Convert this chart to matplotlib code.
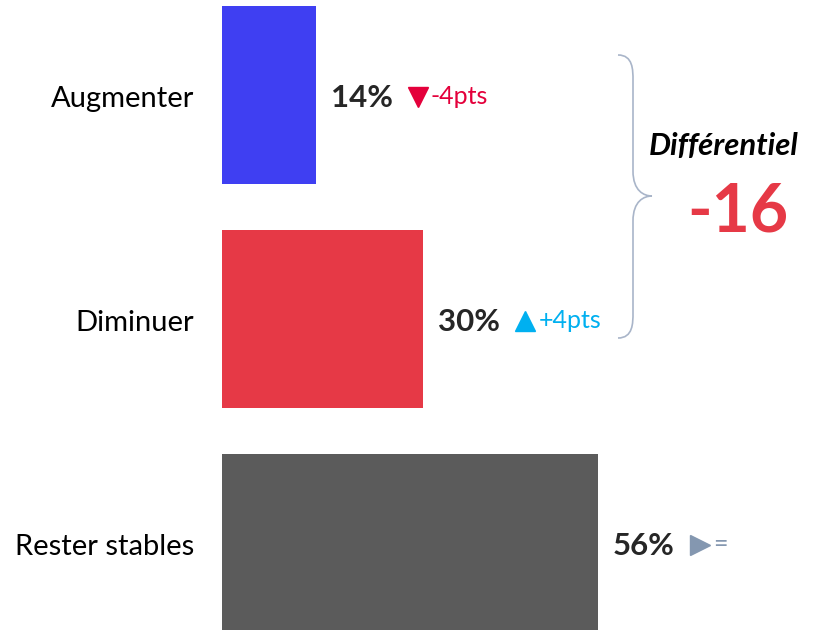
import matplotlib
matplotlib.use("Agg")
import matplotlib.pyplot as plt
from matplotlib.path import Path
from matplotlib.patches import PathPatch
from matplotlib.transforms import offset_copy

plt.rcParams['font.family'] = ['Lato', 'DejaVu Sans']

categories = ["Augmenter", "Diminuer", "Rester stables"]
values = [14, 30, 56]
bar_colors = ["#3F3FF2", "#E63946", "#5B5B5B"]
deltas = ["-4pts", "+4pts", "="]
delta_markers = ["v", "^", ">"]
delta_colors = ["#E4003B", "#00B0F0", "#8497B0"]
diff_label = "Différentiel"
diff_value = "-16"

W, H, DPI = 833, 630, 100
fig = plt.figure(figsize=(W / DPI, H / DPI), dpi=DPI)

px_per_unit = 376 / 56.0
ax_left = 222
ax_width = W - ax_left
ax = fig.add_axes([ax_left / W, 0, ax_width / W, 1])
ax.set_xlim(0, ax_width / px_per_unit)
ypos = list(range(len(categories)))
ax.set_ylim(2 + 87 / 224, -95 / 224)
ax.barh(ypos, values, height=178 / 224, color=bar_colors)
ax.axis("off")

for y, cat in zip(ypos, categories):
    t = offset_copy(ax.transData, fig=fig, x=-28, y=-4, units="dots")
    ax.text(0, y, cat, transform=t, ha="right", va="center",
            fontsize=21, color="black")

for y, v, d, m, c in zip(ypos, values, deltas, delta_markers, delta_colors):
    t1 = offset_copy(ax.transData, fig=fig, x=15, y=-3, units="dots")
    ax.text(v, y, f"{v}%", transform=t1, ha="left", va="center",
            fontsize=22.5, fontweight="bold", color="#262626")
    t2 = offset_copy(ax.transData, fig=fig, x=102, y=-2, units="dots")
    ax.plot([v], [y], marker=m, markersize=15, color=c, transform=t2,
            clip_on=False, linestyle="none")
    t3 = offset_copy(ax.transData, fig=fig, x=115, y=-2, units="dots")
    ax.text(v, y, d, transform=t3, ha="left", va="center",
            fontsize=18, color=c)

# overlay in pixel coordinates for the brace and differential
ov = fig.add_axes([0, 0, 1, 1], facecolor="none")
ov.set_xlim(0, W)
ov.set_ylim(H, 0)
ov.axis("off")
x0, xv, xt = 618, 633, 652
ytop, ymid, ybot = 55, 196, 338
verts = [
    (x0, ytop),
    (xv, ytop), (xv, ytop + 15), (xv, ytop + 25),
    (xv, ymid - 25),
    (xv, ymid - 5), (xt - 8, ymid), (xt, ymid),
    (xt - 8, ymid), (xv, ymid + 5), (xv, ymid + 25),
    (xv, ybot - 25),
    (xv, ybot - 15), (xv, ybot), (x0, ybot),
]
codes = [Path.MOVETO,
         Path.CURVE4, Path.CURVE4, Path.CURVE4,
         Path.LINETO,
         Path.CURVE4, Path.CURVE4, Path.CURVE4,
         Path.CURVE4, Path.CURVE4, Path.CURVE4,
         Path.LINETO,
         Path.CURVE4, Path.CURVE4, Path.CURVE4]
ov.add_patch(PathPatch(Path(verts, codes), facecolor="none",
                       edgecolor="#A9B5C9", linewidth=1.2))
ov.text(724, 146, diff_label, ha="center", va="center", fontsize=22.4,
        fontweight="bold", fontstyle="italic", color="black")
ov.text(738, 212, diff_value, ha="center", va="center", fontsize=47.5,
        fontweight="bold", color="#E63946")

fig.savefig("out.png", dpi=DPI)
